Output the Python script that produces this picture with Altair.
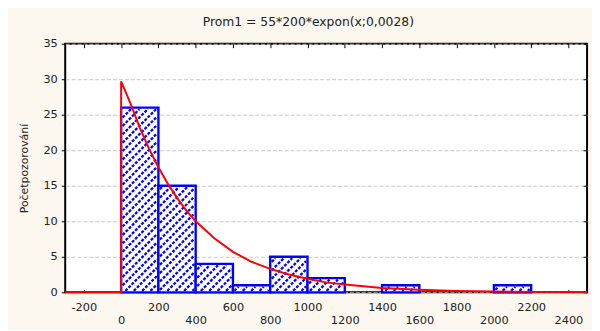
import altair as alt
import pandas as pd

# Histogram bins (class limits) and counts
bin_start = [0, 200, 400, 600, 800, 1000, 1400, 2000]
bin_end = [200, 400, 600, 800, 1000, 1200, 1600, 2200]
counts = [26, 15, 4, 1, 5, 2, 1, 1]

# Fitted exponential curve
curve_x = [-300, 0, 0, 50, 100, 150, 200, 250, 300, 350, 400, 500, 600, 700, 800,
           900, 1000, 1100, 1200, 1400, 1600, 1800, 2000, 2200, 2400, 2500]
curve_y = [0, 0, 29.7, 26.6, 23.2, 20.2, 17.6, 15.3, 13.3, 11.5, 10.0, 7.6, 5.7, 4.3, 3.3,
           2.5, 1.9, 1.4, 1.1, 0.6, 0.35, 0.2, 0.1, 0.06, 0.03, 0.03]

x_ticks = [-200, 0, 200, 400, 600, 800, 1000, 1200, 1400, 1600, 1800, 2000, 2200, 2400]
y_ticks = [0, 5, 10, 15, 20, 25, 30, 35]

X_MIN, X_MAX = -300, 2500
Y_MIN, Y_MAX = 0, 35
W, H = 529, 252
FONT = "DejaVu Sans"
BLUE = "#0000ff"

bars = pd.DataFrame({"x0": bin_start, "x1": bin_end, "n": counts})
curve = pd.DataFrame({"x": curve_x, "y": curve_y, "i": list(range(len(curve_x)))})

# Hatch segments (45 degree in pixel space) clipped to each bar's interior
sx = W / (X_MAX - X_MIN)
sy = H / (Y_MAX - Y_MIN)
segs = []
step = 8.5
for a, b, n in zip(bin_start, bin_end, counts):
    U0 = (a - X_MIN) * sx + 1.5
    U1 = (b - X_MIN) * sx - 1.5
    V0 = 1.5
    V1 = n * sy - 1.5
    if V1 <= V0:
        continue
    k = int((U0 - V1) // step) - 1
    while True:
        c = k * step
        if c > U1 - V0:
            break
        us = max(U0, c + V0)
        ue = min(U1, c + V1)
        if ue - us > 0.5:
            segs.append({
                "x": us / sx + X_MIN, "y": (us - c) / sy,
                "x2": ue / sx + X_MIN, "y2": (ue - c) / sy,
            })
        k += 1
hatch = pd.DataFrame(segs)

xs = alt.Scale(domain=[X_MIN, X_MAX], nice=False, zero=False)
ys = alt.Scale(domain=[Y_MIN, Y_MAX], nice=False)

x_axis_bottom = alt.Axis(
    orient="bottom", values=x_ticks, labels=True, domain=False, grid=False,
    ticks=False, title=None, labelFont=FONT, labelFontSize=11.5, labelColor="#222",
    labelBaseline="top", labelOverlap=False, labelFlush=False,
    labelExpr="'' + datum.value",
    labelPadding={"condition": {"test": "datum.value % 400 == 0", "value": 23}, "value": 9},
)
y_axis_left = alt.Axis(
    orient="left", values=y_ticks, domain=False, grid=True, gridColor="#c8c8c8",
    gridDash=[4, 2], gridWidth=1, ticks=True, tickSize=4, tickColor="#000",
    tickWidth=1, labelFont=FONT, labelFontSize=11.5, labelColor="#222", labelPadding=4,
    title="Početpozorování", titleFont=FONT, titleFontSize=11, titleFontWeight="normal",
    titleColor="#222", titlePadding=14,
)

base_bars = alt.Chart(bars).mark_rect(fill="white", stroke=BLUE, strokeWidth=2.4).encode(
    x=alt.X("x0:Q", scale=xs, axis=x_axis_bottom),
    x2="x1:Q",
    y=alt.Y("n:Q", scale=ys, axis=y_axis_left),
    y2=alt.datum(0),
)

hatch_layer = alt.Chart(hatch).mark_rule(
    color=BLUE, strokeWidth=2.3, strokeDash=[3, 1.5], strokeCap="butt"
).encode(
    x=alt.X("x:Q", scale=xs, axis=alt.Axis(orient="top", values=x_ticks, labels=False,
            domain=False, grid=False, ticks=True, tickSize=4, offset=-4,
            tickColor="#000", title=None)),
    x2="x2:Q",
    y=alt.Y("y:Q", scale=ys, axis=alt.Axis(orient="right", values=y_ticks, labels=False,
            domain=False, grid=False, ticks=True, tickSize=4, offset=-4,
            tickColor="#000", title=None)),
    y2="y2:Q",
)

curve_layer = alt.Chart(curve).mark_line(color="#ff0000", strokeWidth=2).encode(
    x=alt.X("x:Q", scale=xs, axis=alt.Axis(orient="bottom", values=x_ticks, labels=False,
            domain=False, grid=False, ticks=True, tickSize=3, offset=-3,
            tickColor="#000", title=None)),
    y=alt.Y("y:Q", scale=ys, axis=None),
    order="i:Q",
)

chart = alt.layer(base_bars, hatch_layer, curve_layer).resolve_axis(
    x="independent", y="independent"
).properties(
    width=W, height=H,
    title=alt.TitleParams("Prom1 = 55*200*expon(x;0,0028)", font=FONT, fontSize=12.5,
                          fontWeight="normal", color="#222", anchor="middle",
                          dx=-18, dy=16, offset=12, baseline="bottom"),
    background="#fcf8ef",
    padding={"left": 58, "top": 34, "right": 5, "bottom": 36},
    autosize=alt.AutoSizeParams(type="none"),
).configure_view(
    stroke="#000", strokeWidth=2, fill="white"
)

chart.save("out.html", embed_options={"renderer": "svg", "actions": False})
